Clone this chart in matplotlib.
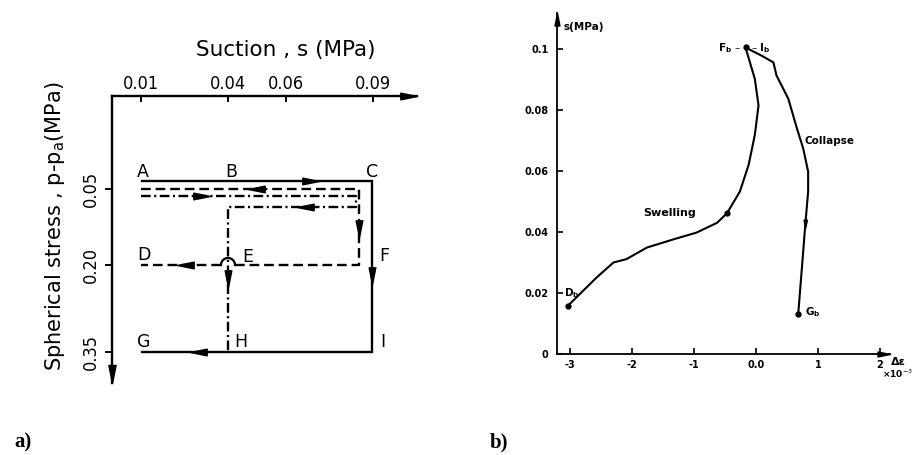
import numpy as np
import matplotlib
matplotlib.use("Agg")
import matplotlib.pyplot as plt
from matplotlib.path import Path
from matplotlib.markers import MarkerStyle
from matplotlib.transforms import Affine2D

# ---------------- data: (a) stress-path programme ----------------
suction_ticks = [0.01, 0.04, 0.06, 0.09]
suction_ticklabels = ["0.01", "0.04", "0.06", "0.09"]
stress_ticks = [0.05, 0.20, 0.35]
stress_ticklabels = ["0.05", "0.20", "0.35"]

state_names = ["A", "B", "C", "D", "E", "F", "G", "H", "I"]
state_suction = [0.01, 0.04, 0.09, 0.01, 0.04, 0.09, 0.01, 0.04, 0.09]
state_stress = [0.05, 0.05, 0.05, 0.20, 0.20, 0.20, 0.35, 0.35, 0.35]

path_solid = ["A", "C", "I", "G"]
path_dashed = ["A", "C", "F", "E", "E", "D"]
path_dashdot = ["A", "C", "C", "B", "H"]

# ---------------- data: (b) volumetric strain vs suction ----------------
strain_ticks = [-3, -2, -1, 0, 1, 2]
strain_ticklabels = ["-3", "-2", "-1", "0.0", "1", "2"]
s_ticks = [0, 0.02, 0.04, 0.06, 0.08, 0.1]
s_ticklabels = ["0", "0.02", "0.04", "0.06", "0.08", "0.1"]

swell_strain = [-3.03, -2.80, -2.57, -2.30, -2.09, -1.76, -1.33, -0.96,
                -0.63, -0.47, -0.26, -0.12, -0.02, 0.04, -0.02, -0.17]
swell_s = [0.0159, 0.0205, 0.0251, 0.0300, 0.0311, 0.0349, 0.0376, 0.0398,
           0.0430, 0.0461, 0.0533, 0.0620, 0.0718, 0.0815, 0.0902, 0.1005]

collapse_strain = [-0.17, 0.09, 0.28, 0.33, 0.52, 0.66, 0.76, 0.84, 0.84,
                   0.79, 0.74, 0.68]
collapse_s = [0.1005, 0.0978, 0.0956, 0.0913, 0.0837, 0.0739, 0.0674,
              0.0598, 0.0533, 0.0414, 0.0284, 0.0132]

W, H = 915, 455
fig = plt.figure(figsize=(W / 100, H / 100), dpi=100)
NARROW = ["Liberation Sans Narrow", "DejaVu Sans"]


def px_rect(x0, y0, x1, y1):
    return [x0 / W, 1 - y1 / H, (x1 - x0) / W, (y1 - y0) / H]


def fig_text(x, y, s, **kw):
    fig.text(x / W, 1 - y / H, s, **kw)


head_path = Path([(0, 0), (-1, 0.2), (-1, -0.2), (0, 0)],
                 [Path.MOVETO, Path.LINETO, Path.LINETO, Path.CLOSEPOLY])


def head(angle):
    return MarkerStyle(head_path, transform=Affine2D().rotate_deg(angle))


# ================= panel (a) =================
axa = fig.add_axes(px_rect(112, 96, 416.5, 383))
depth_s = [0.0, 0.05, 0.20, 0.35, 1.0]
depth_d = [0.0, 93.0, 169.0, 256.0, 633.0]


def fwd(v):
    return np.interp(v, depth_s, depth_d)


def inv(d):
    return np.interp(d, depth_d, depth_s)


axa.set_yscale("function", functions=(fwd, inv))
axa.set_xlim(0, 0.105)
axa.set_ylim(float(inv(287.0)), 0)
for side in ("right", "bottom"):
    axa.spines[side].set_visible(False)
for side in ("top", "left"):
    axa.spines[side].set_linewidth(1.7)

axa.xaxis.tick_top()
axa.set_xticks(suction_ticks, suction_ticklabels, family=NARROW,
               stretch="condensed", fontsize=13)
axa.tick_params(axis="x", direction="in", length=4, width=1.4, pad=2)
axa.set_yticks(stress_ticks, stress_ticklabels, rotation=90, va="center",
               family=NARROW, stretch="condensed", fontsize=13)
axa.tick_params(axis="y", direction="out", length=5, width=1.4, pad=4)
axa.yaxis.set_minor_locator(matplotlib.ticker.NullLocator())

axa.set_xlabel("Suction , s (MPa)", fontsize=15.5)
axa.xaxis.set_label_position("top")
axa.xaxis.label.set_va("center")
axa.xaxis.set_label_coords(0.57, 1.16)
axa.set_ylabel("Spherical stress , p-p$_\\mathrm{a}$(MPa)", fontsize=15)
axa.yaxis.label.set_va("center")
axa.yaxis.set_label_coords(-0.187, 0.547)

# axis arrowheads
axa.plot([1], [1], marker=head(0), ms=24, color="k", transform=axa.transAxes,
         clip_on=False, ls="none")
axa.plot([0], [0], marker=head(-90), ms=26, color="k", transform=axa.transAxes,
         clip_on=False, ls="none")

pos = {n: (s, p) for n, s, p in zip(state_names, state_suction, state_stress)}
scale = fig.dpi / 100.0


def shifted(name, dx, dy):
    d = axa.transData.transform(pos[name]) + np.array([dx, -dy]) * scale
    return axa.transData.inverted().transform(d)


def draw_path(names, lanes, style, arrows, breaks=()):
    pts = [shifted(n, dx, dy) for n, (dx, dy) in zip(names, lanes)]
    xs, ys = [], []
    for i, p in enumerate(pts):
        xs.append(p[0])
        ys.append(p[1])
        if i in breaks:
            xs.append(np.nan)
            ys.append(np.nan)
    axa.plot(xs, ys, color="k", **style)
    for i, j, t, flip in arrows:
        a = axa.transData.transform(pts[i])
        b = axa.transData.transform(pts[j])
        d = a + t * (b - a)
        ang = np.degrees(np.arctan2(b[1] - a[1], b[0] - a[0])) + (180 if flip else 0)
        tip = axa.transData.inverted().transform(d)
        axa.plot([tip[0]], [tip[1]], marker=head(ang), ms=24, color="k", ls="none")


plt.rcParams["lines.scale_dashes"] = False
draw_path(path_solid, [(1, -8), (-1, -8), (-1, 0), (1, 0)],
          dict(lw=1.7, solid_joinstyle="miter"),
          [(0, 1, 0.77, False), (1, 2, 0.60, False), (2, 3, 0.79, False)])
draw_path(path_dashed, [(0, 0), (-14, 0), (-14, 0), (7, 0), (-7, 0), (0, 0)],
          dict(lw=1.7, dashes=(7, 3.5)),
          [(0, 1, 0.49, True), (1, 2, 0.63, False), (4, 5, 0.55, False)],
          breaks={3})
draw_path(path_dashdot, [(0, 7), (-17, 7), (-17, 18), (0, 18), (0, 0)],
          dict(lw=1.7, dashes=(7, 2.5, 1.5, 2.5)),
          [(0, 1, 0.32, False), (2, 3, 0.46, False), (3, 4, 0.55, False)])

# small bridge where the dashed path crosses the dash-dot one at E
theta = np.linspace(0, np.pi, 20)
arc = np.array([shifted("E", 7 * np.cos(t), -7 * np.sin(t)) for t in theta])
axa.plot(arc[:, 0], arc[:, 1], color="k", lw=1.6)

label_offsets = {"A": (2, -17), "B": (3, -17), "C": (-1, -17),
                 "D": (3, -10), "E": (20, -8), "F": (11, -9),
                 "G": (3, -10), "H": (13, -10), "I": (10, -10)}
for n in state_names:
    dx, dy = label_offsets[n]
    axa.annotate(n, pos[n], xytext=(dx * 0.72, -dy * 0.72),
                 textcoords="offset points", ha="center", va="center",
                 fontsize=12.5)

# ================= panel (b) =================
axb = fig.add_axes(px_rect(557, 13, 890, 354))
axb.set_xlim(-3.21, 2.16)
axb.set_ylim(0, 0.1118)
for side in ("right", "top"):
    axb.spines[side].set_visible(False)
for side in ("left", "bottom"):
    axb.spines[side].set_linewidth(1.3)
axb.set_xticks(strain_ticks, strain_ticklabels, fontsize=7, fontweight="bold")
axb.set_yticks(s_ticks, s_ticklabels, fontsize=7, fontweight="bold")
axb.tick_params(axis="x", direction="in", length=4, width=1.2, pad=4)
axb.tick_params(axis="y", direction="in", length=4, width=1.2, pad=6)
axb.plot([1], [0], marker=head(0), ms=18, color="k", transform=axb.transAxes,
         clip_on=False, ls="none")
axb.plot([0], [1], marker=head(90), ms=18, color="k", transform=axb.transAxes,
         clip_on=False, ls="none")

axb.plot(swell_strain, swell_s, color="k", lw=1.5, solid_capstyle="round")
axb.plot(collapse_strain, collapse_s, color="k", lw=1.5, solid_capstyle="round")
axb.plot([swell_strain[0], collapse_strain[-1], swell_strain[-1], swell_strain[9]],
         [swell_s[0], collapse_s[-1], swell_s[-1], swell_s[9]],
         "o", color="k", ms=3.5)
axb.plot([collapse_strain[9]], [collapse_s[9]], marker=head(-92), ms=12,
         color="k", ls="none")

axb.annotate("D$_\\mathbf{b}$", (swell_strain[0], swell_s[0]), xytext=(-3, 9),
             textcoords="offset points", ha="left", va="center",
             fontsize=7.5, fontweight="bold")
axb.annotate("G$_\\mathbf{b}$", (collapse_strain[-1], collapse_s[-1]),
             xytext=(5, 1), textcoords="offset points", ha="left",
             va="center", fontsize=7.5, fontweight="bold")
axb.annotate("F$_\\mathbf{b}$ –", (swell_strain[-1], swell_s[-1]),
             xytext=(-3, -0.5), textcoords="offset points", ha="right",
             va="center", fontsize=7.5, fontweight="bold")
axb.annotate("– I$_\\mathbf{b}$", (swell_strain[-1], swell_s[-1]),
             xytext=(4, -0.5), textcoords="offset points", ha="left",
             va="center", fontsize=7.5, fontweight="bold")
axb.text(-1.4, 0.0463, "Swelling", ha="center", va="center", fontsize=8,
         fontweight="bold")
axb.text(1.18, 0.0697, "Collapse", ha="center", va="center", fontsize=7.5,
         fontweight="bold")

fig_text(563, 27, "s(MPa)", ha="left", va="center", fontsize=7.5,
         fontweight="bold")
fig_text(898, 362, "Δε", ha="center", va="center", fontsize=8, fontweight="bold")
fig_text(913, 374, "×10$^{-3}$", ha="right", va="center", fontsize=6.5,
         fontweight="bold")

# panel tags
fig_text(23, 442, "a)", ha="center", va="center", fontsize=15,
         family="Liberation Serif", fontweight="bold")
fig_text(499, 442, "b)", ha="center", va="center", fontsize=15,
         family="Liberation Serif", fontweight="bold")

fig.savefig("out.png", dpi=100)
